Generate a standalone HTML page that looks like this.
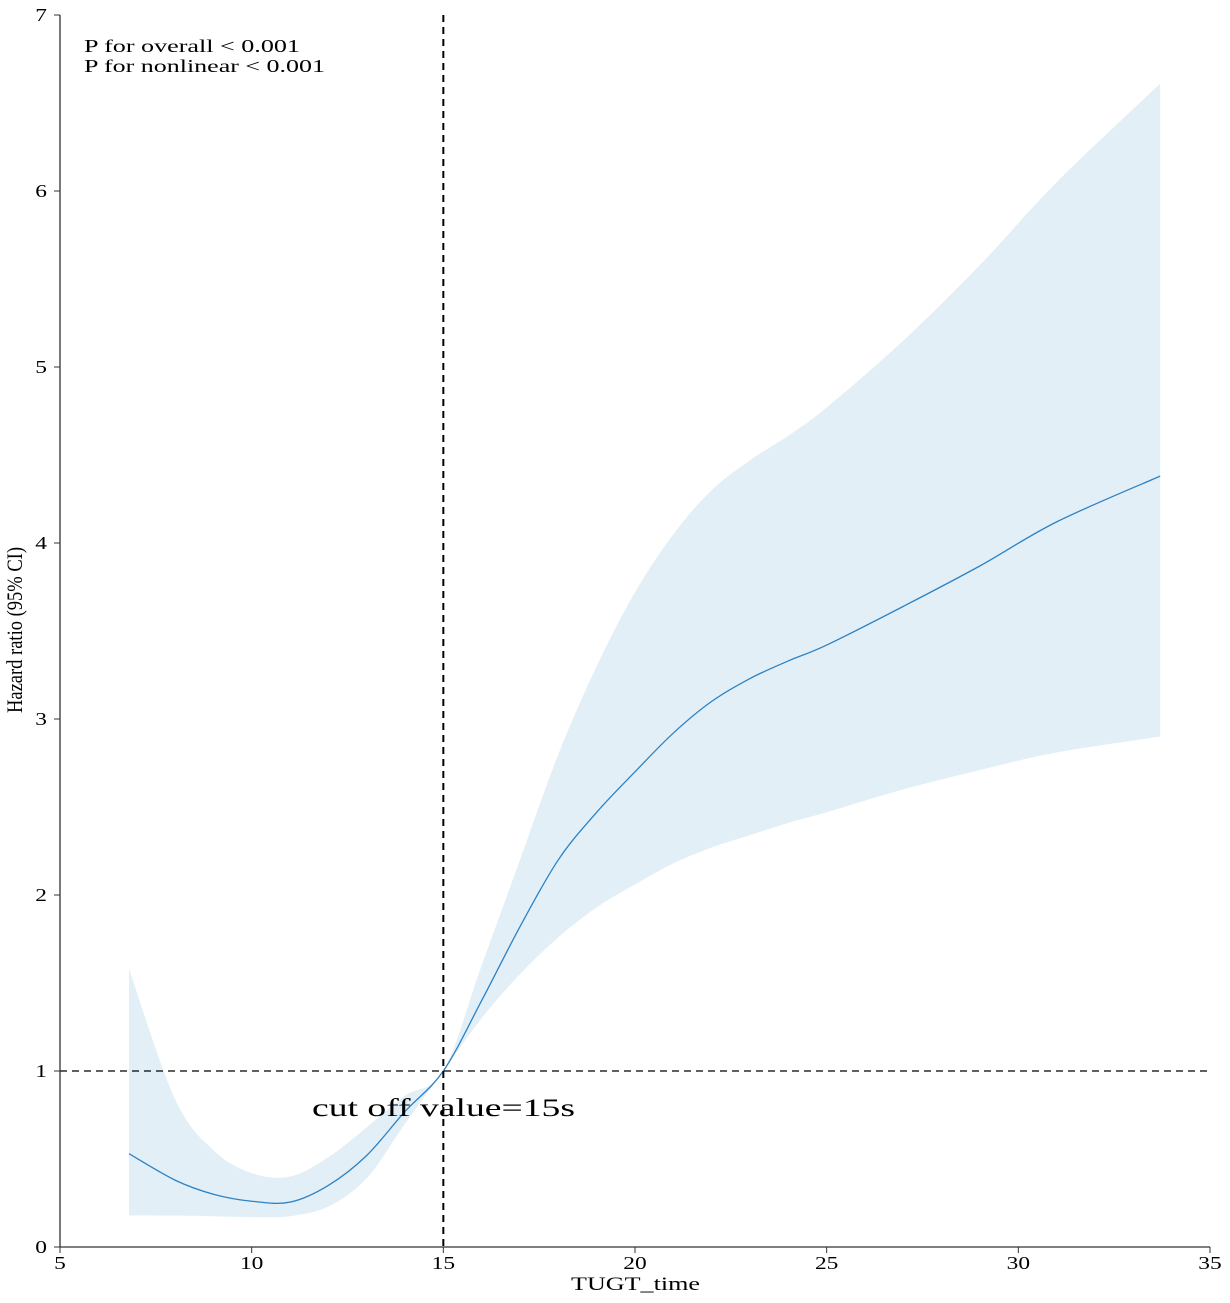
<!DOCTYPE html>
<html><head><meta charset="utf-8"><style>
body{margin:0;background:#fff}
svg text{font-family:"Liberation Serif",serif;fill:#000}
</style></head><body>
<svg width="1230" height="1298" viewBox="0 0 1230 1298">
<g id="band"></g><g id="line"></g><g id="axes"></g>
</svg>
<script>
const xs   =[6.8,8,9,10,11,12,13,14,15,16,17,18,19,20,21,22,23,24,25,27,29,31,33.7];
const est  =[0.53,0.38,0.30,0.26,0.255,0.35,0.52,0.77,1.0,1.40,1.82,2.20,2.47,2.70,2.92,3.10,3.23,3.33,3.42,3.64,3.87,4.12,4.38];
const lower=[0.18,0.178,0.175,0.17,0.175,0.23,0.39,0.70,1.0,1.30,1.55,1.76,1.93,2.06,2.18,2.27,2.34,2.41,2.47,2.60,2.71,2.81,2.90];
const upper=[1.58,0.84,0.55,0.42,0.40,0.51,0.68,0.86,1.0,1.60,2.20,2.80,3.30,3.72,4.05,4.30,4.47,4.61,4.77,5.15,5.58,6.05,6.61];
const xTicks=[5,10,15,20,25,30,35];
const yTicks=[0,1,2,3,4,5,6,7];
const cutoff=15, refHR=1;
const X=v=>60+(v-5)*(1150/30);
const Y=v=>1247-v*176;
const NS="http://www.w3.org/2000/svg";
function mk(tag,attrs,parent){const e=document.createElementNS(NS,tag);for(const k in attrs)e.setAttribute(k,attrs[k]);document.getElementById(parent).appendChild(e);return e;}
function smooth(pts){
 let d="M"+pts[0][0]+","+pts[0][1];
 for(let i=0;i<pts.length-1;i++){const p0=pts[i-1]||pts[i],p1=pts[i],p2=pts[i+1],p3=pts[i+2]||p2;
  d+=" C"+(p1[0]+(p2[0]-p0[0])/6)+","+(p1[1]+(p2[1]-p0[1])/6)+" "+(p2[0]-(p3[0]-p1[0])/6)+","+(p2[1]-(p3[1]-p1[1])/6)+" "+p2[0]+","+p2[1];}
 return d;}
const up=xs.map((x,i)=>[X(x),Y(upper[i])]);
const lo=xs.map((x,i)=>[X(x),Y(lower[i])]).reverse();
const band=mk("path",{d:smooth(up)+" L"+lo[0][0]+","+lo[0][1]+smooth(lo).replace(/^M[^ ]+/,"")+" Z",fill:"#e3eff6"},"band");


const ln=mk("path",{d:smooth(xs.map((x,i)=>[X(x),Y(est[i])])),fill:"none",stroke:"#2c82c5","stroke-width":1.3},"line");


const vl=mk("line",{x1:X(cutoff),x2:X(cutoff),y1:15,y2:1247,stroke:"#000","stroke-width":2,"stroke-dasharray":"7,5"},"axes");


const hl=mk("line",{x1:60,x2:1210,y1:Y(refHR),y2:Y(refHR),stroke:"#000","stroke-width":1.3,"stroke-dasharray":"7,5"},"axes");


mk("path",{d:"M60,15 V1247 H1210",fill:"none",stroke:"#333","stroke-width":1.3},"axes");
xTicks.forEach(t=>{mk("line",{x1:X(t),x2:X(t),y1:1247,y2:1253,stroke:"#333"},"axes");
 const tx=mk("text",{x:X(t),y:1269,"font-size":18,"text-anchor":"middle",transform:"translate("+X(t)+",0) scale(1.3,1) translate("+(-X(t))+",0)"},"axes");tx.textContent=t;
 
 });
yTicks.forEach(t=>{mk("line",{x1:54,x2:60,y1:Y(t),y2:Y(t),stroke:"#333"},"axes");
 const tx=mk("text",{x:47,y:Y(t)+6,"font-size":18,"text-anchor":"end",transform:"translate(47,0) scale(1.3,1) translate(-47,0)"},"axes");tx.textContent=t;
 
 });
</script>
<svg style="position:absolute;left:0;top:0" width="1230" height="1298">
<text x="571" y="1290" font-size="19" textLength="129" lengthAdjust="spacingAndGlyphs">TUGT_time</text>
<text transform="translate(22,630) rotate(-90)" font-size="22" text-anchor="middle" textLength="166" lengthAdjust="spacingAndGlyphs">Hazard ratio (95% CI)</text>
<text x="84" y="52" font-size="18" textLength="216" lengthAdjust="spacingAndGlyphs">P for overall &lt; 0.001</text>
<text x="84" y="72" font-size="18" textLength="241" lengthAdjust="spacingAndGlyphs">P for nonlinear &lt; 0.001</text>
<text x="312" y="1116" font-size="25" textLength="263" lengthAdjust="spacingAndGlyphs">cut off value=15s</text>
</svg>
</body></html>
